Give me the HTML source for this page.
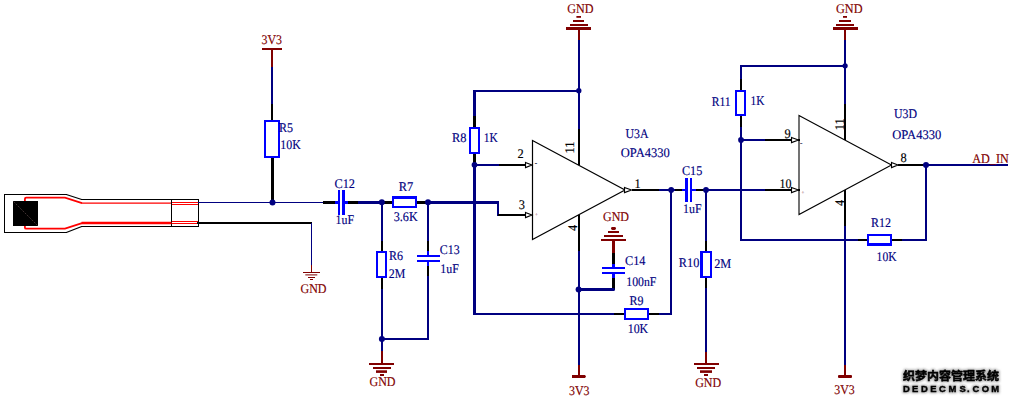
<!DOCTYPE html>
<html><head><meta charset="utf-8"><title>Schematic</title>
<style>
html,body{margin:0;padding:0;background:#fff;}
body{width:1011px;height:403px;overflow:hidden;}
svg{display:block;}
text.s{font-family:"Liberation Serif","DejaVu Serif",serif;text-rendering:geometricPrecision;stroke-width:0.15px;}
text.n{font-family:"Liberation Sans",sans-serif;}
text.cjk{font-family:"Liberation Sans","Noto Sans CJK SC","WenQuanYi Zen Hei",sans-serif;}
text.lat{font-family:"Liberation Sans",sans-serif;}
</style></head><body>
<svg width="1011" height="403" viewBox="0 0 1011 403" shape-rendering="crispEdges">
<rect x="0" y="0" width="1011" height="403" fill="#ffffff"/>
<rect x="4" y="194" width="1" height="39" fill="#000000"/>
<rect x="4" y="194" width="63" height="1" fill="#000000"/>
<rect x="4" y="232" width="63" height="1" fill="#000000"/>
<rect x="81" y="199" width="118" height="1" fill="#000000"/>
<rect x="81" y="226" width="118" height="1" fill="#000000"/>
<rect x="198" y="199" width="1" height="28" fill="#000000"/>
<rect x="171" y="199" width="1" height="28" fill="#000000"/>
<g shape-rendering="auto" fill="none">
<path d="M66.3 194.5 L81.7 199.5 M66.3 232.5 L81.7 226.5" stroke="#000000" stroke-width="1.25"/>
<path d="M24.9 201 V199 Q24.9 197.7 26.2 197.7 H65 L82 203.1" stroke="#ff0000" stroke-width="1.8"/>
<path d="M81.5 203.2 H171" stroke="#ff0000" stroke-width="1.25"/>
<path d="M24.9 226 V227.4 Q24.9 228.7 26.2 228.7 H65 L82 223.05" stroke="#ff0000" stroke-width="1.8"/>
<path d="M81.5 223.05 H171.5" stroke="#ff0000" stroke-width="2.4"/>
<path d="M172 202.5 H198 M172 204.5 H198 M172 221.5 H198 M172 223.5 H198" stroke="#ff0000" stroke-width="1"/>
</g>
<rect x="13" y="201" width="25" height="25" fill="#000000"/>
<path d="M13.5 201.5 L37.5 225.5" stroke="#907070" stroke-width="0.45" stroke-dasharray="2 1.2" shape-rendering="auto"/>
<rect x="198" y="202" width="125" height="1" fill="#000080"/>
<rect x="197" y="222" width="115" height="2" fill="#000000"/>
<rect x="311" y="223" width="1" height="42" fill="#000080"/>
<rect x="311" y="265" width="1" height="8" fill="#800000"/>
<rect x="303" y="272" width="17" height="1" fill="#800000"/>
<rect x="305.3" y="274.4" width="12" height="1" fill="#800000" shape-rendering="auto"/>
<rect x="308" y="277" width="7" height="1" fill="#800000"/>
<rect x="310" y="279" width="3" height="1" fill="#800000"/>
<text class="s" transform="translate(300.5 292.9) scale(1 1)" fill="#800000" stroke="#800000" font-size="13.2" textLength="26" lengthAdjust="spacingAndGlyphs">GND</text>
<text class="s" transform="translate(261.5 43.7) scale(1 1)" fill="#800000" stroke="#800000" font-size="13.2" textLength="20.5" lengthAdjust="spacingAndGlyphs">3V3</text>
<rect x="262" y="48" width="20" height="2" fill="#800000"/>
<rect x="271" y="50" width="2" height="17" fill="#800000"/>
<rect x="271" y="67" width="2" height="37" fill="#000080"/>
<rect x="271" y="104" width="2" height="16" fill="#000000"/>
<rect x="271" y="158" width="3" height="44" fill="#000000"/>
<rect x="265.0" y="121.0" width="14" height="36" fill="#fff" stroke="#0000ff" stroke-width="2"/>
<text class="s" transform="translate(279.0 131.7) scale(1 1)" fill="#000080" stroke="#000080" font-size="13.2" textLength="14" lengthAdjust="spacingAndGlyphs">R5</text>
<text class="s" transform="translate(280.3 149.2) scale(1 1)" fill="#000080" stroke="#000080" font-size="13.2" textLength="20.5" lengthAdjust="spacingAndGlyphs">10K</text>
<circle cx="272.5" cy="202.5" r="3" fill="#000080" shape-rendering="auto"/>
<rect x="323" y="201" width="12" height="3" fill="#000000"/>
<rect x="335" y="201" width="3" height="3" fill="#0000ff"/>
<rect x="338" y="190" width="2" height="25" fill="#0000ff"/>
<rect x="342" y="190" width="3" height="25" fill="#0000ff"/>
<rect x="345" y="201" width="3" height="3" fill="#0000ff"/>
<rect x="348" y="201" width="10" height="3" fill="#000000"/>
<rect x="358" y="201" width="24" height="3" fill="#000080"/>
<text class="s" transform="translate(334.5 187.7) scale(1 1)" fill="#000080" stroke="#000080" font-size="13.2" textLength="20.5" lengthAdjust="spacingAndGlyphs">C12</text>
<text class="s" transform="translate(335.5 224.2) scale(1 1)" fill="#000080" stroke="#000080" font-size="13.2" textLength="18.5" lengthAdjust="spacingAndGlyphs">1uF</text>
<rect x="382" y="201" width="10" height="3" fill="#000000"/>
<rect x="417" y="201" width="11" height="3" fill="#000000"/>
<rect x="393.0" y="197.0" width="23" height="10" fill="#fff" stroke="#0000ff" stroke-width="2"/>
<rect x="393" y="198" width="23" height="1" fill="#0000ff"/>
<rect x="428" y="201" width="71" height="3" fill="#000080"/>
<text class="s" transform="translate(398.8 190.7) scale(1 1)" fill="#000080" stroke="#000080" font-size="13.2" textLength="14.5" lengthAdjust="spacingAndGlyphs">R7</text>
<text class="s" transform="translate(393.7 221.4) scale(1 1)" fill="#000080" stroke="#000080" font-size="13.2" textLength="24" lengthAdjust="spacingAndGlyphs">3.6K</text>
<rect x="381" y="202" width="2" height="39" fill="#000080"/>
<rect x="381" y="241" width="2" height="10" fill="#000000"/>
<rect x="377.0" y="252.0" width="9" height="25" fill="#fff" stroke="#0000ff" stroke-width="2"/>
<rect x="381" y="278" width="2" height="11" fill="#000000"/>
<rect x="381" y="289" width="2" height="62" fill="#000080"/>
<rect x="381" y="351" width="2" height="13" fill="#800000"/>
<text class="s" transform="translate(389.0 259.7) scale(1 1)" fill="#000080" stroke="#000080" font-size="13.2" textLength="14" lengthAdjust="spacingAndGlyphs">R6</text>
<text class="s" transform="translate(388.8 277.9) scale(1 1)" fill="#000080" stroke="#000080" font-size="13.2" textLength="16.5" lengthAdjust="spacingAndGlyphs">2M</text>
<rect x="427" y="202" width="2" height="39" fill="#000080"/>
<rect x="427" y="241" width="2" height="10" fill="#000000"/>
<rect x="427" y="251" width="2" height="4" fill="#0000ff"/>
<rect x="417" y="255" width="23" height="2" fill="#0000ff"/>
<rect x="417" y="260" width="23" height="2" fill="#0000ff"/>
<rect x="427" y="262" width="2" height="4" fill="#0000ff"/>
<rect x="427" y="266" width="2" height="10" fill="#000000"/>
<rect x="427" y="276" width="2" height="64" fill="#000080"/>
<rect x="381" y="338" width="48" height="2" fill="#000080"/>
<text class="s" transform="translate(439.8 253.9) scale(1 1)" fill="#000080" stroke="#000080" font-size="13.2" textLength="19.8" lengthAdjust="spacingAndGlyphs">C13</text>
<text class="s" transform="translate(440.3 273.4) scale(1 1)" fill="#000080" stroke="#000080" font-size="13.2" textLength="18.5" lengthAdjust="spacingAndGlyphs">1uF</text>
<circle cx="381.8" cy="202.3" r="3" fill="#000080" shape-rendering="auto"/>
<circle cx="428" cy="202.3" r="3" fill="#000080" shape-rendering="auto"/>
<circle cx="381.9" cy="339" r="3" fill="#000080" shape-rendering="auto"/>
<rect x="369" y="363" width="25" height="2" fill="#800000"/>
<rect x="373" y="367" width="18" height="2" fill="#800000"/>
<rect x="376" y="370.3" width="11" height="2.6" fill="#800000" shape-rendering="auto"/>
<rect x="380" y="374" width="4" height="2" fill="#800000"/>
<text class="s" transform="translate(369.5 386.3) scale(1 1)" fill="#800000" stroke="#800000" font-size="13.2" textLength="26" lengthAdjust="spacingAndGlyphs">GND</text>
<rect x="497" y="202" width="2" height="14" fill="#000080"/>
<rect x="498" y="214" width="28" height="2" fill="#000000"/>
<path d="M525.5 212.4 L532 215 L525.5 217.6 Z" fill="#fff" stroke="#000000" stroke-width="1.1" shape-rendering="auto"/>
<text class="s" transform="translate(518.8 208.7) scale(1 1)" fill="#000000" stroke="#000000" font-size="13.2" textLength="6.2" lengthAdjust="spacingAndGlyphs">3</text>
<rect x="473" y="90" width="3" height="26" fill="#000080"/>
<rect x="473" y="90" width="107" height="2" fill="#000080"/>
<rect x="473" y="116" width="3" height="11" fill="#000000"/>
<rect x="470.0" y="128.0" width="9" height="25" fill="#fff" stroke="#0000ff" stroke-width="2"/>
<rect x="473" y="154" width="3" height="11" fill="#000000"/>
<rect x="473" y="165" width="3" height="150" fill="#000080"/>
<rect x="474" y="164" width="25" height="2" fill="#000080"/>
<rect x="499" y="164" width="27" height="2" fill="#000000"/>
<path d="M525.5 162.4 L532 165 L525.5 167.6 Z" fill="#fff" stroke="#000000" stroke-width="1.1" shape-rendering="auto"/>
<circle cx="474.5" cy="164.8" r="2.9" fill="#000080" shape-rendering="auto"/>
<text class="s" transform="translate(452 141.7) scale(1 1)" fill="#000080" stroke="#000080" font-size="13.2" textLength="14.5" lengthAdjust="spacingAndGlyphs">R8</text>
<text class="s" transform="translate(483.8 141.7) scale(1 1)" fill="#000080" stroke="#000080" font-size="13.2" textLength="14" lengthAdjust="spacingAndGlyphs">1K</text>
<text class="s" transform="translate(517.5 157.7) scale(1 1)" fill="#000000" stroke="#000000" font-size="13.2" textLength="6.2" lengthAdjust="spacingAndGlyphs">2</text>
<rect x="473" y="313" width="141" height="2" fill="#000080"/>
<rect x="614" y="313" width="10" height="2" fill="#000000"/>
<rect x="625.0" y="309.0" width="23" height="10" fill="#fff" stroke="#0000ff" stroke-width="2"/>
<rect x="649" y="313" width="10" height="2" fill="#000000"/>
<rect x="659" y="313" width="13" height="2" fill="#000080"/>
<rect x="670" y="190" width="2" height="125" fill="#000080"/>
<text class="s" transform="translate(629.5 304.7) scale(1 1)" fill="#000080" stroke="#000080" font-size="13.2" textLength="14" lengthAdjust="spacingAndGlyphs">R9</text>
<text class="s" transform="translate(627.7 333.4) scale(1 1)" fill="#000080" stroke="#000080" font-size="13.2" textLength="20.5" lengthAdjust="spacingAndGlyphs">10K</text>
<path d="M532.5 140.5 L625 190 L532.5 239.5 Z" fill="none" stroke="#000000" stroke-width="1.2" shape-rendering="auto"/>
<rect x="566" y="27" width="25" height="3" fill="#800000"/>
<rect x="570" y="24" width="18" height="2" fill="#800000"/>
<rect x="573" y="20" width="11" height="2" fill="#800000"/>
<rect x="576.4" y="16" width="4.6" height="1.8" fill="#800000" shape-rendering="auto"/>
<text class="s" transform="translate(567.3 13.2) scale(1 1)" fill="#800000" stroke="#800000" font-size="13.2" textLength="26.3" lengthAdjust="spacingAndGlyphs">GND</text>
<rect x="578" y="30" width="2" height="10" fill="#800000"/>
<rect x="578" y="40" width="2" height="89" fill="#000080"/>
<rect x="578" y="129" width="2" height="36" fill="#000000"/>
<circle cx="578.8" cy="90.7" r="2.65" fill="#000080" shape-rendering="auto"/>
<text class="s" transform="translate(573.7 153.5) rotate(-90) scale(1 1)" fill="#000000" stroke="#000000" font-size="13.2" textLength="12" lengthAdjust="spacingAndGlyphs">11</text>
<rect x="578" y="215" width="2" height="36" fill="#000000"/>
<rect x="578" y="251" width="2" height="114" fill="#000080"/>
<rect x="578" y="365" width="2" height="10" fill="#800000"/>
<path d="M572 375 H585 L586 376.5 L585 378 H572 Z" fill="#800000" shape-rendering="auto"/>
<text class="s" transform="translate(569 394.9) scale(1 1)" fill="#800000" stroke="#800000" font-size="13.2" textLength="20.5" lengthAdjust="spacingAndGlyphs">3V3</text>
<text class="s" transform="translate(577.2 231) rotate(-90) scale(1 1)" fill="#000000" stroke="#000000" font-size="13.2" textLength="6.2" lengthAdjust="spacingAndGlyphs">4</text>
<circle cx="578.6" cy="289.4" r="3" fill="#000080" shape-rendering="auto"/>
<rect x="612" y="278" width="3" height="12" fill="#000000"/>
<rect x="612" y="274" width="3" height="4" fill="#0000ff"/>
<rect x="578" y="288" width="36" height="3" fill="#000080"/>
<path d="M612 288 H613.6 Q615 288 615 289.5 Q615 291 613.6 291 H612 Z" fill="#000080" shape-rendering="auto"/>
<rect x="602" y="267" width="23" height="2" fill="#0000ff"/>
<rect x="602" y="272" width="23" height="2" fill="#0000ff"/>
<rect x="612" y="264" width="3" height="3" fill="#0000ff"/>
<rect x="612" y="253" width="3" height="11" fill="#000000"/>
<rect x="612" y="241" width="3" height="12" fill="#800000"/>
<rect x="601" y="239" width="25" height="2" fill="#800000"/>
<rect x="604" y="235" width="19" height="2" fill="#800000"/>
<rect x="608" y="231" width="11" height="2" fill="#800000"/>
<rect x="611" y="227.1" width="5" height="2.8" rx="1.4" ry="1.4" fill="#800000" shape-rendering="auto"/>
<text class="s" transform="translate(603 221.2) scale(1 1)" fill="#800000" stroke="#800000" font-size="13.2" textLength="26" lengthAdjust="spacingAndGlyphs">GND</text>
<text class="s" transform="translate(625 264.7) scale(1 1)" fill="#000080" stroke="#000080" font-size="13.2" textLength="20.5" lengthAdjust="spacingAndGlyphs">C14</text>
<text class="s" transform="translate(626.3 285.7) scale(1 1)" fill="#000080" stroke="#000080" font-size="13.2" textLength="30" lengthAdjust="spacingAndGlyphs">100nF</text>
<text class="s" transform="translate(625.5 137.7) scale(1 1)" fill="#000080" stroke="#000080" font-size="13.2" textLength="23" lengthAdjust="spacingAndGlyphs">U3A</text>
<text class="s" transform="translate(620.8 157.3) scale(1 1)" fill="#000080" stroke="#000080" font-size="13.2" textLength="49" lengthAdjust="spacingAndGlyphs">OPA4330</text>
<path d="M624.5 187.4 L631.5 190 L624.5 192.6 Z" fill="#fff" stroke="#000000" stroke-width="1.1" shape-rendering="auto"/>
<rect x="632" y="189" width="27" height="2" fill="#000000"/>
<rect x="659" y="189" width="16" height="2" fill="#000080"/>
<rect x="675" y="189" width="7" height="2" fill="#000000"/>
<rect x="682" y="189" width="3" height="2" fill="#0000ff"/>
<rect x="685" y="178" width="3" height="24" fill="#0000ff"/>
<rect x="690" y="178" width="2" height="24" fill="#0000ff"/>
<rect x="692" y="189" width="4" height="2" fill="#0000ff"/>
<rect x="696" y="189" width="10" height="2" fill="#000000"/>
<rect x="706" y="189" width="59" height="2" fill="#000080"/>
<rect x="765" y="189" width="27" height="2" fill="#000000"/>
<path d="M791.5 187.4 L798.5 190 L791.5 192.6 Z" fill="#fff" stroke="#000000" stroke-width="1.1" shape-rendering="auto"/>
<rect x="798" y="189" width="2" height="2" fill="#000000"/>
<circle cx="671.2" cy="189.9" r="2.85" fill="#000080" shape-rendering="auto"/>
<circle cx="706" cy="189.9" r="2.85" fill="#000080" shape-rendering="auto"/>
<text class="s" transform="translate(634.6 188.2) scale(1 1)" fill="#000000" stroke="#000000" font-size="13.2" textLength="6.2" lengthAdjust="spacingAndGlyphs">1</text>
<text class="s" transform="translate(682.0 175.0) scale(1 1)" fill="#000080" stroke="#000080" font-size="13.2" textLength="20.3" lengthAdjust="spacingAndGlyphs">C15</text>
<text class="s" transform="translate(683 212.5) scale(1 1)" fill="#000080" stroke="#000080" font-size="13.2" textLength="18.5" lengthAdjust="spacingAndGlyphs">1uF</text>
<rect x="705" y="190" width="2" height="51" fill="#000080"/>
<rect x="705" y="241" width="2" height="10" fill="#000000"/>
<rect x="701.0" y="252.0" width="10" height="25" fill="#fff" stroke="#0000ff" stroke-width="2"/>
<rect x="702" y="252" width="1" height="25" fill="#0000ff"/>
<rect x="705" y="278" width="2" height="10" fill="#000000"/>
<rect x="705" y="288" width="2" height="64" fill="#000080"/>
<rect x="705" y="352" width="2" height="12" fill="#800000"/>
<rect x="694" y="363" width="25" height="2" fill="#800000"/>
<rect x="697" y="367" width="18" height="2" fill="#800000"/>
<rect x="700" y="370.3" width="12" height="2.6" fill="#800000" shape-rendering="auto"/>
<rect x="704" y="374" width="4" height="2" fill="#800000"/>
<text class="s" transform="translate(695.2 386.7) scale(1 1)" fill="#800000" stroke="#800000" font-size="13.2" textLength="26" lengthAdjust="spacingAndGlyphs">GND</text>
<text class="s" transform="translate(678.8 266.7) scale(1 1)" fill="#000080" stroke="#000080" font-size="13.2" textLength="20.5" lengthAdjust="spacingAndGlyphs">R10</text>
<text class="s" transform="translate(714.2 268.4) scale(1 1)" fill="#000080" stroke="#000080" font-size="13.2" textLength="17" lengthAdjust="spacingAndGlyphs">2M</text>
<path d="M799 115.5 L891.5 165 L799 214.5 Z" fill="none" stroke="#000000" stroke-width="1.1" shape-rendering="auto"/>
<rect x="740" y="65" width="2" height="14" fill="#000080"/>
<rect x="740" y="65" width="106" height="2" fill="#000080"/>
<rect x="740" y="79" width="2" height="11" fill="#000000"/>
<rect x="736.0" y="91.0" width="9" height="24" fill="#fff" stroke="#0000ff" stroke-width="2"/>
<rect x="740" y="116" width="2" height="11" fill="#000000"/>
<rect x="740" y="127" width="2" height="114" fill="#000080"/>
<rect x="741" y="139" width="24" height="2" fill="#000080"/>
<rect x="765" y="139" width="27" height="2" fill="#000000"/>
<path d="M791.5 137.4 L798.5 140 L791.5 142.6 Z" fill="#fff" stroke="#000000" stroke-width="1.1" shape-rendering="auto"/>
<rect x="798" y="139" width="2" height="2" fill="#000000"/>
<circle cx="741" cy="139.9" r="2.85" fill="#000080" shape-rendering="auto"/>
<text class="s" transform="translate(711.7 105.5) scale(1 1)" fill="#000080" stroke="#000080" font-size="13.2" textLength="19" lengthAdjust="spacingAndGlyphs">R11</text>
<text class="s" transform="translate(750.5 104.9) scale(1 1)" fill="#000080" stroke="#000080" font-size="13.2" textLength="14" lengthAdjust="spacingAndGlyphs">1K</text>
<text class="s" transform="translate(784.6 138.4) scale(1 1)" fill="#000000" stroke="#000000" font-size="13.2" textLength="6.2" lengthAdjust="spacingAndGlyphs">9</text>
<text class="s" transform="translate(779.6 187.7) scale(1 1)" fill="#000000" stroke="#000000" font-size="13.2" textLength="12" lengthAdjust="spacingAndGlyphs">10</text>
<rect x="740" y="239" width="118" height="2" fill="#000080"/>
<rect x="858" y="239" width="9" height="2" fill="#000000"/>
<rect x="868.0" y="235.0" width="23" height="10" fill="#fff" stroke="#0000ff" stroke-width="2"/>
<rect x="868" y="243" width="23" height="1" fill="#0000ff"/>
<rect x="892" y="239" width="10" height="2" fill="#000000"/>
<rect x="902" y="239" width="25" height="2" fill="#000080"/>
<rect x="925" y="165" width="2" height="76" fill="#000080"/>
<text class="s" transform="translate(871 226.5) scale(1 1)" fill="#000080" stroke="#000080" font-size="13.2" textLength="20" lengthAdjust="spacingAndGlyphs">R12</text>
<text class="s" transform="translate(876.6 260.7) scale(1 1)" fill="#000080" stroke="#000080" font-size="13.2" textLength="20" lengthAdjust="spacingAndGlyphs">10K</text>
<rect x="833" y="27" width="25" height="3" fill="#800000"/>
<rect x="836" y="24" width="18" height="2" fill="#800000"/>
<rect x="839" y="20" width="12" height="2" fill="#800000"/>
<rect x="843" y="16" width="4" height="1.8" fill="#800000" shape-rendering="auto"/>
<text class="s" transform="translate(836 12.7) scale(1 1)" fill="#800000" stroke="#800000" font-size="13.2" textLength="26.5" lengthAdjust="spacingAndGlyphs">GND</text>
<rect x="844" y="30" width="2" height="10" fill="#800000"/>
<rect x="844" y="40" width="2" height="64" fill="#000080"/>
<rect x="844" y="104" width="2" height="36" fill="#000000"/>
<circle cx="845.1" cy="65.8" r="2.65" fill="#000080" shape-rendering="auto"/>
<text class="s" transform="translate(843.7 130.3) rotate(-90) scale(1 1)" fill="#000000" stroke="#000000" font-size="13.2" textLength="12" lengthAdjust="spacingAndGlyphs">11</text>
<rect x="844" y="190" width="2" height="36" fill="#000000"/>
<rect x="844" y="226" width="2" height="139" fill="#000080"/>
<rect x="844" y="365" width="2" height="10" fill="#800000"/>
<rect x="838" y="375" width="14" height="3" rx="1" ry="1" fill="#800000" shape-rendering="auto"/>
<text class="s" transform="translate(834.3 393.9) scale(1 1)" fill="#800000" stroke="#800000" font-size="13.2" textLength="20.5" lengthAdjust="spacingAndGlyphs">3V3</text>
<text class="s" transform="translate(843.5 206) rotate(-90) scale(1 1)" fill="#000000" stroke="#000000" font-size="13.2" textLength="6.2" lengthAdjust="spacingAndGlyphs">4</text>
<path d="M891.5 162.4 L898 165 L891.5 167.6 Z" fill="#fff" stroke="#000000" stroke-width="1.1" shape-rendering="auto"/>
<rect x="898" y="164" width="28" height="2" fill="#000000"/>
<rect x="926" y="164" width="82" height="2" fill="#000080"/>
<circle cx="926" cy="165" r="3" fill="#000080" shape-rendering="auto"/>
<text class="s" transform="translate(900.4 162.4) scale(1 1)" fill="#000000" stroke="#000000" font-size="13.2" textLength="6.2" lengthAdjust="spacingAndGlyphs">8</text>
<text class="s" transform="translate(972.3 162.5) scale(1 1)" fill="#800000" stroke="#800000" font-size="13.2" textLength="36.5" lengthAdjust="spacingAndGlyphs">AD_IN</text>
<text class="s" transform="translate(894 117.7) scale(1 1)" fill="#000080" stroke="#000080" font-size="13.2" textLength="23" lengthAdjust="spacingAndGlyphs">U3D</text>
<text class="s" transform="translate(892.2 139.4) scale(1 1)" fill="#000080" stroke="#000080" font-size="13.2" textLength="49" lengthAdjust="spacingAndGlyphs">OPA4330</text>
<text class="s" transform="translate(534.7 165.0) scale(1 1)" fill="#101030" stroke="#101030" font-size="7">-</text>
<text class="s" transform="translate(799.9 145.0) scale(1 1)" fill="#303050" stroke="#303050" font-size="7">-</text>
<text class="s" transform="translate(535.0 215.5) scale(1 1)" fill="#b07888" stroke="#b07888" font-size="5">+</text>
<text class="s" transform="translate(801.5 194.4) scale(1 1)" fill="#b07888" stroke="#b07888" font-size="5">+</text>
<defs><filter id="halo" x="-10%" y="-40%" width="120%" height="180%" color-interpolation-filters="sRGB"><feMorphology in="SourceAlpha" operator="dilate" radius="1" result="d"/><feGaussianBlur in="d" stdDeviation="0.8" result="b"/><feFlood flood-color="#707070" flood-opacity="0.55" result="f"/><feComposite in="f" in2="b" operator="in" result="h"/><feMerge><feMergeNode in="h"/><feMergeNode in="SourceGraphic"/></feMerge></filter></defs>
<g class="wm" filter="url(#halo)" shape-rendering="auto">
<text x="903" y="379.9" font-size="11.2" font-weight="bold" class="cjk" textLength="96" lengthAdjust="spacingAndGlyphs" fill="#000" stroke="#000" stroke-width="0.5" stroke-linejoin="round">织梦内容管理系统</text>
<text x="902.9 912.0 920.9 930.2 939.0 948.5 959.5 967.1 972.4 981.7 991.3" y="391.7" font-size="9.4" font-weight="bold" class="lat" fill="#000" stroke="#000" stroke-width="0.4" stroke-linejoin="miter">DEDECMS.COM</text>
</g>
</svg>
</body></html>
